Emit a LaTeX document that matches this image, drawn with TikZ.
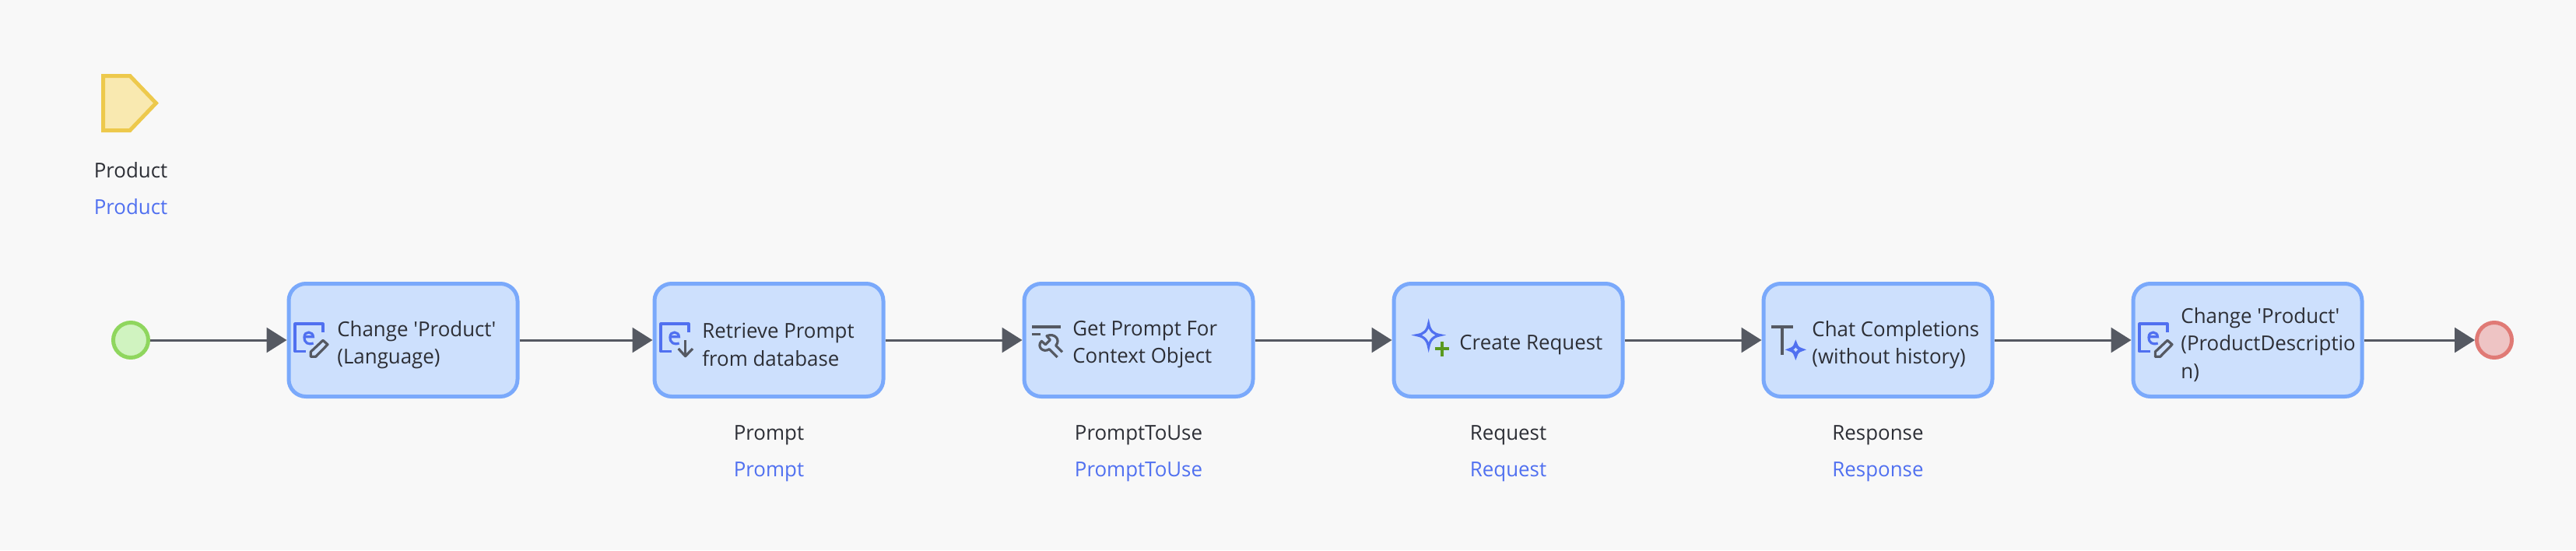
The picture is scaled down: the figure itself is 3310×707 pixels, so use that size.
\documentclass[tikz,border=0pt]{standalone}
\usepackage{fontspec}
\setmainfont[FakeStretch=0.98]{Open Sans}
\usetikzlibrary{arrows.meta}
\definecolor{bgc}{HTML}{F8F8F8}
\definecolor{boxfill}{HTML}{CDE0FD}
\definecolor{boxline}{HTML}{7AA9FB}
\definecolor{ink}{HTML}{2D2F36}
\definecolor{blueink}{HTML}{5070F0}
\definecolor{flow}{HTML}{555962}
\definecolor{startfill}{HTML}{D0F3C0}
\definecolor{startline}{HTML}{8FD65E}
\definecolor{endfill}{HTML}{EEC4C4}
\definecolor{endline}{HTML}{E07A75}
\definecolor{parfill}{HTML}{F9E9B0}
\definecolor{parline}{HTML}{EDC94C}
\definecolor{plusgreen}{HTML}{5A9A1F}
\newcommand{\qq}{\textquotesingle}
\tikzset{
  x=0.5pt,y=-0.5pt,
  taskbox/.style={draw=boxline,fill=boxfill,line width=2.5pt,rounded corners=11pt,minimum width=147pt,minimum height=72.5pt,inner sep=0pt},
  eventdot/.style={circle,line width=2.5pt,minimum size=22.5pt,inner sep=0pt},
  flowline/.style={draw=flow,line width=1.5pt,-{Triangle[length=13pt,width=16pt]}},
  tasktext/.style={font=\fontsize{13.2pt}{17.6pt}\selectfont,text=ink,align=left,inner sep=0pt,anchor=west},
  capstyle/.style={font=\fontsize{13.2pt}{16pt}\selectfont,inner sep=0pt,anchor=base},
  blackcap/.style={capstyle,text=ink},
  bluecap/.style={capstyle,text=blueink},
  zm/.style={x=0.16667pt,y=-0.16667pt},
  iconblue/.style={draw=blueink,line width=1.6pt,line cap=butt},
  icongray/.style={draw=flow,line width=1.6pt},
}
\newcommand{\eicon}{%
  \draw[iconblue,line join=round] (165,110) -- (165,78) -- (57,78) -- (57,185) -- (100,185);
  \draw[iconblue] (93,128) -- (127,128) .. controls (128,108) and (93,103) .. (93,130) .. controls (93,152) and (108,160) .. (128,153);
}
\begin{document}
\begin{tikzpicture}
\fill[bgc] (0,0) rectangle (3310,707);
\useasboundingbox (0,0) rectangle (3310,707);

% parameter
\draw[fill=parfill,draw=parline,line width=2.5pt,miter limit=6] (132.5,97.5) -- (167,97.5) -- (200.5,132.5) -- (167,167.5) -- (132.5,167.5) -- cycle;
\node[blackcap] (parname) at (168,228.5) {Product};
\node[bluecap] (partype) at (168,275.5) {Product};

% events and tasks
\node[eventdot,draw=startline,fill=startfill] (start) at (168,437) {};
\node[taskbox] (t1) at (518,437) {};
\node[taskbox] (t2) at (988,437) {};
\node[taskbox] (t3) at (1463,437) {};
\node[taskbox] (t4) at (1938,437) {};
\node[taskbox] (t5) at (2413,437) {};
\node[taskbox] (t6) at (2888,437) {};
\node[eventdot,draw=endline,fill=endfill] (end) at (3205,437) {};

\draw[flowline] (start) -- (t1);
\draw[flowline] (t1) -- (t2);
\draw[flowline] (t2) -- (t3);
\draw[flowline] (t3) -- (t4);
\draw[flowline] (t4) -- (t5);
\draw[flowline] (t5) -- (t6);
\draw[flowline] (t6) -- (end);

% task texts
\node[tasktext] (l1) at (433,443) {Change \qq Product\qq\\(Language)};
\node[tasktext] (l2) at (902,443) {Retrieve Prompt\\from database};
\node[tasktext] (l3) at (1378,443) {Get Prompt For\\Context Object};
\node[tasktext] (l4) at (1875,443) {Create Request};
\node[tasktext] (l5) at (2328,443) {Chat Completions\\(without history)};
\node[tasktext] (l6) at (2802,443) {Change \qq Product\qq\\(ProductDescriptio\\n)};

% output captions
\node[blackcap] (c2) at (988,565) {Prompt};
\node[bluecap] (d2) at (988,612) {Prompt};
\node[blackcap] (c3) at (1463,565) {PromptToUse};
\node[bluecap] (d3) at (1463,612) {PromptToUse};
\node[blackcap] (c4) at (1938,565) {Request};
\node[bluecap] (d4) at (1938,612) {Request};
\node[blackcap] (c5) at (2413,565) {Response};
\node[bluecap] (d5) at (2413,612) {Response};

% icon: change object
\begin{scope}[shift={(360,390)},zm]
  \eicon
  \draw[icongray,line join=round] (118,205) -- (118,186) -- (165,142) -- (183,158) -- (137,205) -- cycle;
\end{scope}
% icon: retrieve
\begin{scope}[shift={(830,390)},zm]
  \eicon
  \draw[icongray] (152,142) -- (152,200);
  \draw[icongray,line join=round] (125,174) -- (152,203) -- (180,174);
\end{scope}
% icon: get prompt
\begin{scope}[shift={(1310,390)},zm]
  \draw[icongray] (48,90) -- (160,90);
  \draw[icongray] (48,118) -- (80,118);
  \draw[icongray,line join=round] (146,207) -- (115,176) .. controls (90,192) and (65,165) .. (85,145) -- (100,158) -- (118,140) -- (105,125) .. controls (135,112) and (160,140) .. (140,162) -- (165,187);
\end{scope}
% icon: create request
\begin{scope}[shift={(1800,390)},zm]
  \draw[iconblue,line join=miter] (107,78) .. controls (112,105) and (125,118) .. (152,122) .. controls (125,127) and (112,140) .. (107,168) .. controls (102,140) and (89,127) .. (62,122) .. controls (89,118) and (102,105) .. (107,78) -- cycle;
  \draw[draw=plusgreen,line width=2pt] (131,175) -- (186,175);
  \draw[draw=plusgreen,line width=2pt] (158,147) -- (158,203);
\end{scope}
% icon: chat completions
\begin{scope}[shift={(2260,390)},zm]
  \draw[icongray] (48,90) -- (132,90);
  \draw[icongray] (90,90) -- (90,197);
  \draw[iconblue,line width=2pt] (142,155) .. controls (146,168) and (152,174) .. (166,178) .. controls (152,182) and (146,188) .. (142,202) .. controls (138,188) and (132,182) .. (118,178) .. controls (132,174) and (138,168) .. (142,155) -- cycle;
\end{scope}
% icon: change object 2
\begin{scope}[shift={(2730,390)},zm]
  \eicon
  \draw[icongray,line join=round] (118,205) -- (118,186) -- (165,142) -- (183,158) -- (137,205) -- cycle;
\end{scope}
\end{tikzpicture}
\end{document}
